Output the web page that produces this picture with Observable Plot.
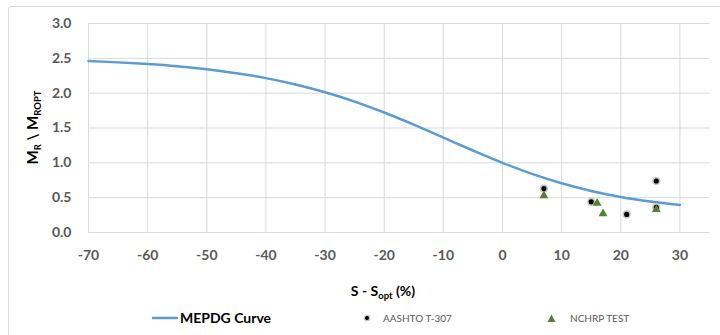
<!DOCTYPE html>
<html><head><meta charset="utf-8">
<script src="https://cdn.jsdelivr.net/npm/d3@7"></script>
<script src="https://cdn.jsdelivr.net/npm/@observablehq/plot@0.6"></script>
<style>
body{margin:0;background:#fff;font-family:Lato,"Open Sans",sans-serif;}
#wrap{position:relative;width:720px;height:335px;overflow:hidden;background:#fff;}
#frame{position:absolute;left:8px;top:6px;width:740px;height:360px;border:1px solid #d9d9d9;border-radius:3px;box-sizing:border-box;}
#chart{position:absolute;left:0;top:0;}
#legend{position:absolute;left:0;top:305px;width:720px;height:30px;}
.li{position:absolute;top:13px;transform:translateY(-50%);white-space:nowrap;line-height:1;}
</style>
</head><body>
<div id="wrap"><div id="frame"></div><div id="chart"></div><div id="legend"></div></div>
<script>
// MEPDG curve
const curveX = [-70,-65,-60,-55,-50,-45,-40,-35,-30,-25,-20,-15,-10,-5,0,5,10,15,20,25,30];
const curveY = [2.460,2.442,2.418,2.386,2.343,2.287,2.216,2.125,2.013,1.879,1.722,1.548,1.362,1.177,1.000,0.842,0.707,0.597,0.510,0.444,0.394];
// AASHTO T-307 points
const aashtoX = [7,15,21,26,26];
const aashtoY = [0.63,0.44,0.26,0.74,0.36];
// NCHRP TEST points
const nchrpX = [7,16,17,26];
const nchrpY = [0.53,0.42,0.27,0.33];
// ticks
const xTicks = [-70,-60,-50,-40,-30,-20,-10,0,10,20,30];
const yTicks = [0,0.5,1,1.5,2,2.5,3];
const seriesNames = ["MEPDG Curve","AASHTO T-307","NCHRP TEST"];

const curve = curveX.map((x,i)=>({x, y: curveY[i]}));
const aashto = aashtoX.map((x,i)=>({x, y: aashtoY[i]}));
const nchrp = nchrpX.map((x,i)=>({x, y: nchrpY[i]}));

const grid = "#d9d9d9";
const svg = Plot.plot({
  width: 720, height: 305,
  marginLeft: 88, marginRight: 11, marginTop: 23, marginBottom: 73,
  style: {fontFamily: "Lato, 'Open Sans', sans-serif", background: "transparent", overflow: "visible"},
  x: {domain: [-70, 35]},
  y: {domain: [0, 3]},
  marks: [
    Plot.gridX(xTicks, {stroke: grid, strokeOpacity: 1, strokeWidth: 1}),
    Plot.gridY(yTicks, {stroke: grid, strokeOpacity: 1, strokeWidth: 1}),
    Plot.axisX(xTicks, {tickSize: 0, tickPadding: 18, fontSize: 14, fontWeight: "bold", fill: "#595959", label: null, tickFormat: d => String(d)}),
    Plot.axisY(yTicks, {tickSize: 0, tickPadding: 17, fontSize: 14, fontWeight: "bold", fill: "#595959", label: null, tickFormat: d => d.toFixed(1)}),
    Plot.line(curve, {x: "x", y: "y", stroke: "#5b9bd5", strokeWidth: 2.5, curve: "monotone-x"}),
    Plot.dot(aashto, {x: "x", y: "y", r: 3.3, fill: "#000", stroke: "#c4c4c4", strokeWidth: 1.5}),
    Plot.dot(nchrp, {x: "x", y: "y", symbol: "triangle", r: 3.3, fill: "#548235", stroke: "none"})
  ]
});
document.getElementById("chart").appendChild(svg);

const s = d3.select(svg);
// y axis title
const yt = s.append("text")
  .attr("transform", "translate(38,127.5) rotate(-90)")
  .attr("text-anchor", "middle")
  .attr("font-size", 15).attr("font-weight", "bold").attr("fill", "#000");
yt.append("tspan").text("M");
yt.append("tspan").attr("font-size", 9.5).attr("dy", 3).text("R");
yt.append("tspan").attr("dy", -3).text(" \\ M");
yt.append("tspan").attr("font-size", 9.5).attr("dy", 3).text("ROPT");
// x axis title
const xt = s.append("text")
  .attr("x", 383).attr("y", 296)
  .attr("text-anchor", "middle")
  .attr("font-size", 14).attr("font-weight", "bold").attr("fill", "#000");
xt.append("tspan").text("S - S");
xt.append("tspan").attr("font-size", 9.5).attr("dy", 3).text("opt");
xt.append("tspan").attr("dy", -3).text(" (%)");

// legend
const lg = d3.select("#legend");
lg.append("div").attr("class","li").style("left","152px")
  .html('<svg width="26" height="4" style="display:block"><line x1="0" x2="26" y1="2" y2="2" stroke="#5b9bd5" stroke-width="2.5"/></svg>');
lg.append("div").attr("class","li").style("left","180px")
  .style("font-size","14px").style("font-weight","bold").style("color","#000").text(seriesNames[0]);
lg.append("div").attr("class","li").style("left","363px")
  .html('<svg width="8" height="8" style="display:block"><circle cx="4" cy="4" r="2.6" fill="#000" stroke="#c4c4c4" stroke-width="1.2"/></svg>');
lg.append("div").attr("class","li").style("left","383px")
  .style("font-size","10px").style("color","#595959").text(seriesNames[1]);
lg.append("div").attr("class","li").style("left","547px")
  .html('<svg width="9" height="9" style="display:block"><path d="M4.5,1 L8.5,8.5 L0.5,8.5Z" fill="#548235"/></svg>');
lg.append("div").attr("class","li").style("left","570px")
  .style("font-size","10px").style("color","#595959").text(seriesNames[2]);
</script>
</body></html>
